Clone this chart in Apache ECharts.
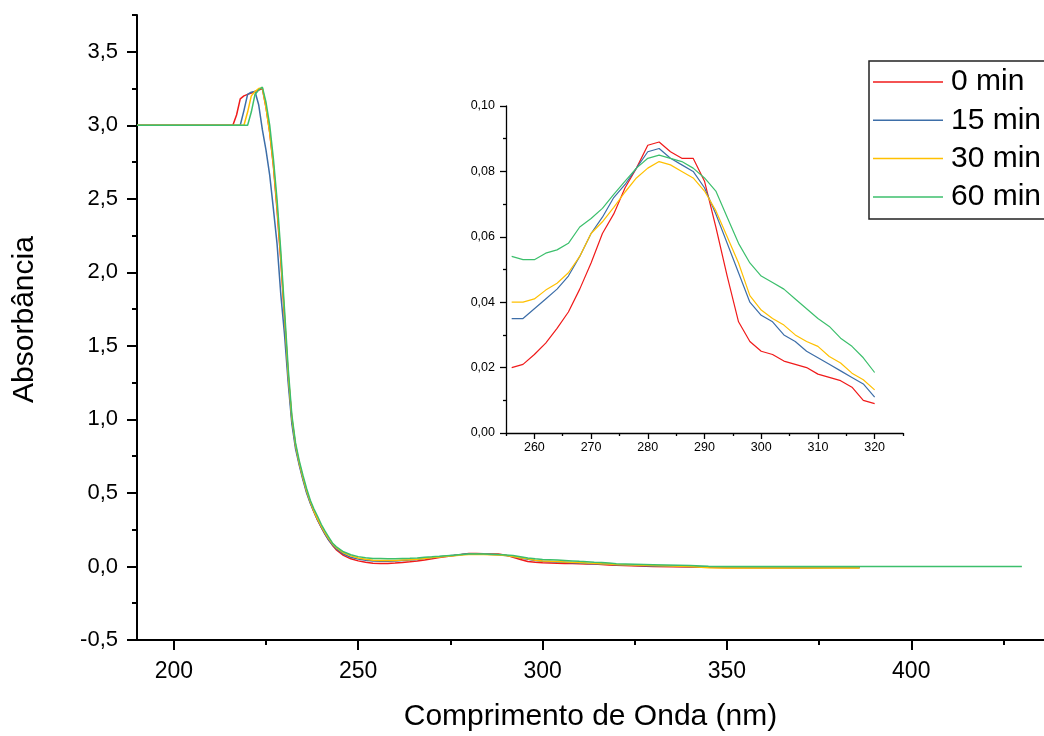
<!DOCTYPE html>
<html><head><meta charset="utf-8">
<script src="https://cdn.jsdelivr.net/npm/echarts@6/dist/echarts.min.js"></script>
<style>html,body{margin:0;padding:0;background:#fff}#c{width:1044px;height:736px}</style>
</head><body><div id="c"></div>
<script>
// ---- data ----
const seriesNames = ['0 min', '15 min', '30 min', '60 min'];
const seriesColors = ['#f01a1a', '#3d6ea8', '#ffc000', '#3cbf6c'];

const headWavelengths = [190, 216, 217, 218, 219, 220, 221, 222, 223, 224, 225, 226, 227, 228, 229, 230, 231, 232, 233, 234, 235, 236, 237, 238, 239, 240, 241, 242, 243, 244, 246, 248, 250, 252, 254];
const headRed    = [3.0, 3.0, 3.07, 3.18, 3.20, 3.21, 3.22, 3.23, 3.24, 3.25, 3.12, 2.95, 2.72, 2.42, 2.08, 1.69, 1.30, 1.00, 0.82, 0.70, 0.60, 0.51, 0.435, 0.37, 0.315, 0.265, 0.22, 0.18, 0.145, 0.115, 0.075, 0.052, 0.038, 0.028, 0.022];
const headBlue   = [3.0, 3.0, 3.0, 3.0, 3.10, 3.21, 3.225, 3.23, 3.14, 2.97, 2.83, 2.66, 2.43, 2.19, 1.85, 1.58, 1.25, 0.97, 0.80, 0.69, 0.59, 0.50, 0.43, 0.37, 0.315, 0.265, 0.22, 0.18, 0.148, 0.122, 0.085, 0.062, 0.05, 0.043, 0.038];
const headYellow = [3.0, 3.0, 3.0, 3.0, 3.0, 3.09, 3.20, 3.23, 3.25, 3.255, 3.12, 2.95, 2.73, 2.44, 2.10, 1.71, 1.31, 1.01, 0.825, 0.705, 0.605, 0.515, 0.44, 0.375, 0.322, 0.272, 0.228, 0.19, 0.155, 0.13, 0.093, 0.072, 0.058, 0.049, 0.043];
const headGreen  = [3.0, 3.0, 3.0, 3.0, 3.0, 3.0, 3.09, 3.21, 3.24, 3.26, 3.155, 3.0, 2.77, 2.49, 2.145, 1.75, 1.35, 1.03, 0.84, 0.72, 0.62, 0.53, 0.45, 0.39, 0.34, 0.285, 0.24, 0.20, 0.16, 0.135, 0.10, 0.08, 0.067, 0.059, 0.055];

const insetWavelengths = [256, 258, 260, 262, 264, 266, 268, 270, 272, 274, 276, 278, 280, 282, 284, 286, 288, 290, 292, 294, 296, 298, 300, 302, 304, 306, 308, 310, 312, 314, 316, 318, 320];
const insetRed    = [0.020, 0.021, 0.024, 0.0275, 0.032, 0.037, 0.044, 0.052, 0.061, 0.067, 0.075, 0.081, 0.088, 0.089, 0.086, 0.084, 0.084, 0.077, 0.063, 0.048, 0.034, 0.028, 0.025, 0.024, 0.022, 0.021, 0.020, 0.018, 0.017, 0.016, 0.014, 0.010, 0.009];
const insetBlue   = [0.035, 0.035, 0.038, 0.041, 0.044, 0.048, 0.054, 0.061, 0.066, 0.072, 0.076, 0.081, 0.086, 0.087, 0.084, 0.082, 0.080, 0.075, 0.067, 0.058, 0.049, 0.040, 0.036, 0.034, 0.030, 0.028, 0.025, 0.023, 0.021, 0.019, 0.017, 0.015, 0.011];
const insetYellow = [0.040, 0.040, 0.041, 0.0437, 0.0458, 0.049, 0.054, 0.061, 0.0646, 0.069, 0.0737, 0.078, 0.081, 0.083, 0.082, 0.080, 0.078, 0.074, 0.068, 0.060, 0.052, 0.042, 0.0376, 0.035, 0.033, 0.030, 0.028, 0.0265, 0.0234, 0.0214, 0.0183, 0.0163, 0.0132];
const insetGreen  = [0.054, 0.053, 0.053, 0.055, 0.056, 0.058, 0.063, 0.0656, 0.0687, 0.073, 0.077, 0.081, 0.084, 0.085, 0.084, 0.083, 0.081, 0.078, 0.074, 0.066, 0.058, 0.052, 0.048, 0.046, 0.044, 0.041, 0.038, 0.035, 0.0326, 0.029, 0.0265, 0.023, 0.0185];

const tailWavelengths = [330, 340, 345, 350, 360, 370, 380, 386, 400, 415, 430];
const tailRed    = [0.0, -0.004, -0.006, -0.008, -0.008, -0.008, -0.007, -0.007, null, null, null];
const tailBlue   = [0.004, 0.0, -0.004, -0.006, -0.007, -0.008, -0.007, -0.007, null, null, null];
const tailYellow = [0.006, 0.0, -0.008, -0.01, -0.01, -0.01, -0.01, -0.01, null, null, null];
const tailGreen  = [0.012, 0.006, 0.002, 0.0, 0.0, -0.001, -0.001, 0.0, 0.0, 0.0, 0.0];

const mainXTicks = [200, 250, 300, 350, 400];
const mainXMinor = [225, 275, 325, 375, 425];
const mainYTicks = [-0.5, 0, 0.5, 1, 1.5, 2, 2.5, 3, 3.5];
const mainYMinor = [-0.25, 0.25, 0.75, 1.25, 1.75, 2.25, 2.75, 3.25, 3.75];
const insetXTicks = [260, 270, 280, 290, 300, 310, 320];
const insetXMinor = [255, 265, 275, 285, 295, 305, 315, 325];
const insetYTicks = [0, 0.02, 0.04, 0.06, 0.08, 0.1];
const insetYMinor = [0.01, 0.03, 0.05, 0.07, 0.09];

// ---- build ----
const FONT = "'Liberation Sans', Arial, sans-serif";
const comma = d => v => Number(v).toFixed(d).replace('.', ',');
const zip = (xs, ys) => xs.map((x, i) => [x, ys[i]]);
const mainData = (h, ins, t) => zip(headWavelengths, h).concat(zip(insetWavelengths, ins), zip(tailWavelengths, t));

const heads = [headRed, headBlue, headYellow, headGreen];
const insets = [insetRed, insetBlue, insetYellow, insetGreen];
const tails = [tailRed, tailBlue, tailYellow, tailGreen];

const blk = '#000';
function axis(opts) {
  return Object.assign({
    type: 'value',
    splitLine: { show: false },
    axisLine: { show: true, onZero: false, lineStyle: { color: blk, width: 2 } },
    axisTick: { show: true },
    axisLabel: { show: true, color: blk, fontFamily: FONT }
  }, opts);
}
const noLine = { show: false, onZero: false };

const series = [];
seriesNames.forEach((n, i) => {
  series.push({
    name: n, type: 'line', xAxisIndex: 0, yAxisIndex: 0, symbol: 'none',
    lineStyle: { color: seriesColors[i], width: 1.5 }, itemStyle: { color: seriesColors[i] },
    data: mainData(heads[i], insets[i], tails[i])
  });
});
seriesNames.forEach((n, i) => {
  series.push({
    name: n, type: 'line', xAxisIndex: 2, yAxisIndex: 2, symbol: 'none',
    lineStyle: { color: seriesColors[i], width: 1.2 }, itemStyle: { color: seriesColors[i] },
    data: zip(insetWavelengths, insets[i])
  });
});

const option = {
  animation: false,
  backgroundColor: '#fff',
  grid: [
    { left: 137, top: 15, right: 0, bottom: 96, containLabel: false, outerBoundsMode: 'none' },
    { left: 506, top: 106, width: 397, height: 327, containLabel: false, outerBoundsMode: 'none' }
  ],
  xAxis: [
    axis({ gridIndex: 0, min: 190, max: 436, position: 'bottom',
      axisTick: { show: true, customValues: mainXTicks, length: 10, lineStyle: { color: blk, width: 2 } },
      axisLabel: { show: true, customValues: mainXTicks, margin: 20, fontSize: 23, color: blk, fontFamily: FONT },
      name: 'Comprimento de Onda (nm)', nameLocation: 'middle', nameGap: 62,
      nameTextStyle: { fontSize: 30, color: blk, fontFamily: FONT } }),
    axis({ gridIndex: 0, min: 190, max: 436, position: 'bottom',
      axisLine: noLine,
      axisTick: { show: true, customValues: mainXMinor, length: 5, lineStyle: { color: blk, width: 2 } },
      axisLabel: { show: false } }),
    axis({ gridIndex: 1, min: 255, max: 325, position: 'bottom',
      axisLine: { show: true, onZero: false, lineStyle: { color: blk, width: 1.3 } },
      axisTick: { show: true, customValues: insetXTicks, length: 6, lineStyle: { color: blk, width: 1.3 } },
      axisLabel: { show: true, customValues: insetXTicks, margin: 8, fontSize: 12.5, color: blk, fontFamily: FONT } }),
    axis({ gridIndex: 1, min: 255, max: 325, position: 'bottom',
      axisLine: noLine,
      axisTick: { show: true, customValues: insetXMinor, length: 3, lineStyle: { color: blk, width: 1.3 } },
      axisLabel: { show: false } })
  ],
  yAxis: [
    axis({ gridIndex: 0, min: -0.5, max: 3.75, position: 'left',
      axisTick: { show: true, customValues: mainYTicks, length: 10, lineStyle: { color: blk, width: 2 } },
      axisLabel: { show: true, customValues: mainYTicks, margin: 19, fontSize: 22, color: blk, fontFamily: FONT, formatter: comma(1) },
      name: 'Absorbância', nameLocation: 'middle', nameGap: 97,
      nameTextStyle: { fontSize: 30, color: blk, fontFamily: FONT, padding: [0, 0, 0, 16] } }),
    axis({ gridIndex: 0, min: -0.5, max: 3.75, position: 'left',
      axisLine: noLine,
      axisTick: { show: true, customValues: mainYMinor, length: 5, lineStyle: { color: blk, width: 2 } },
      axisLabel: { show: false } }),
    axis({ gridIndex: 1, min: 0, max: 0.1, position: 'left',
      axisLine: { show: true, onZero: false, lineStyle: { color: blk, width: 1.3 } },
      axisTick: { show: true, customValues: insetYTicks, length: 6, lineStyle: { color: blk, width: 1.3 } },
      axisLabel: { show: true, customValues: insetYTicks, margin: 11, fontSize: 12.5, color: blk, fontFamily: FONT, formatter: comma(2) } }),
    axis({ gridIndex: 1, min: 0, max: 0.1, position: 'left',
      axisLine: noLine,
      axisTick: { show: true, customValues: insetYMinor, length: 3, lineStyle: { color: blk, width: 1.3 } },
      axisLabel: { show: false } })
  ],
  legend: {
    data: seriesNames,
    orient: 'vertical',
    left: 869, top: 61,
    padding: [6, 40, 7, 4],
    borderColor: '#222', borderWidth: 1.5,
    itemWidth: 70, itemHeight: 14, itemGap: 8.3,
    icon: 'path://M0,0L70,0L70,1.5L0,1.5Z',
    textStyle: { fontSize: 30, lineHeight: 30, color: blk, fontFamily: FONT, padding: [0, 0, 0, 3] }
  },
  series
};

const chart = echarts.init(document.getElementById('c'), null, { renderer: 'canvas' });
chart.setOption(option);
</script>
</body></html>
